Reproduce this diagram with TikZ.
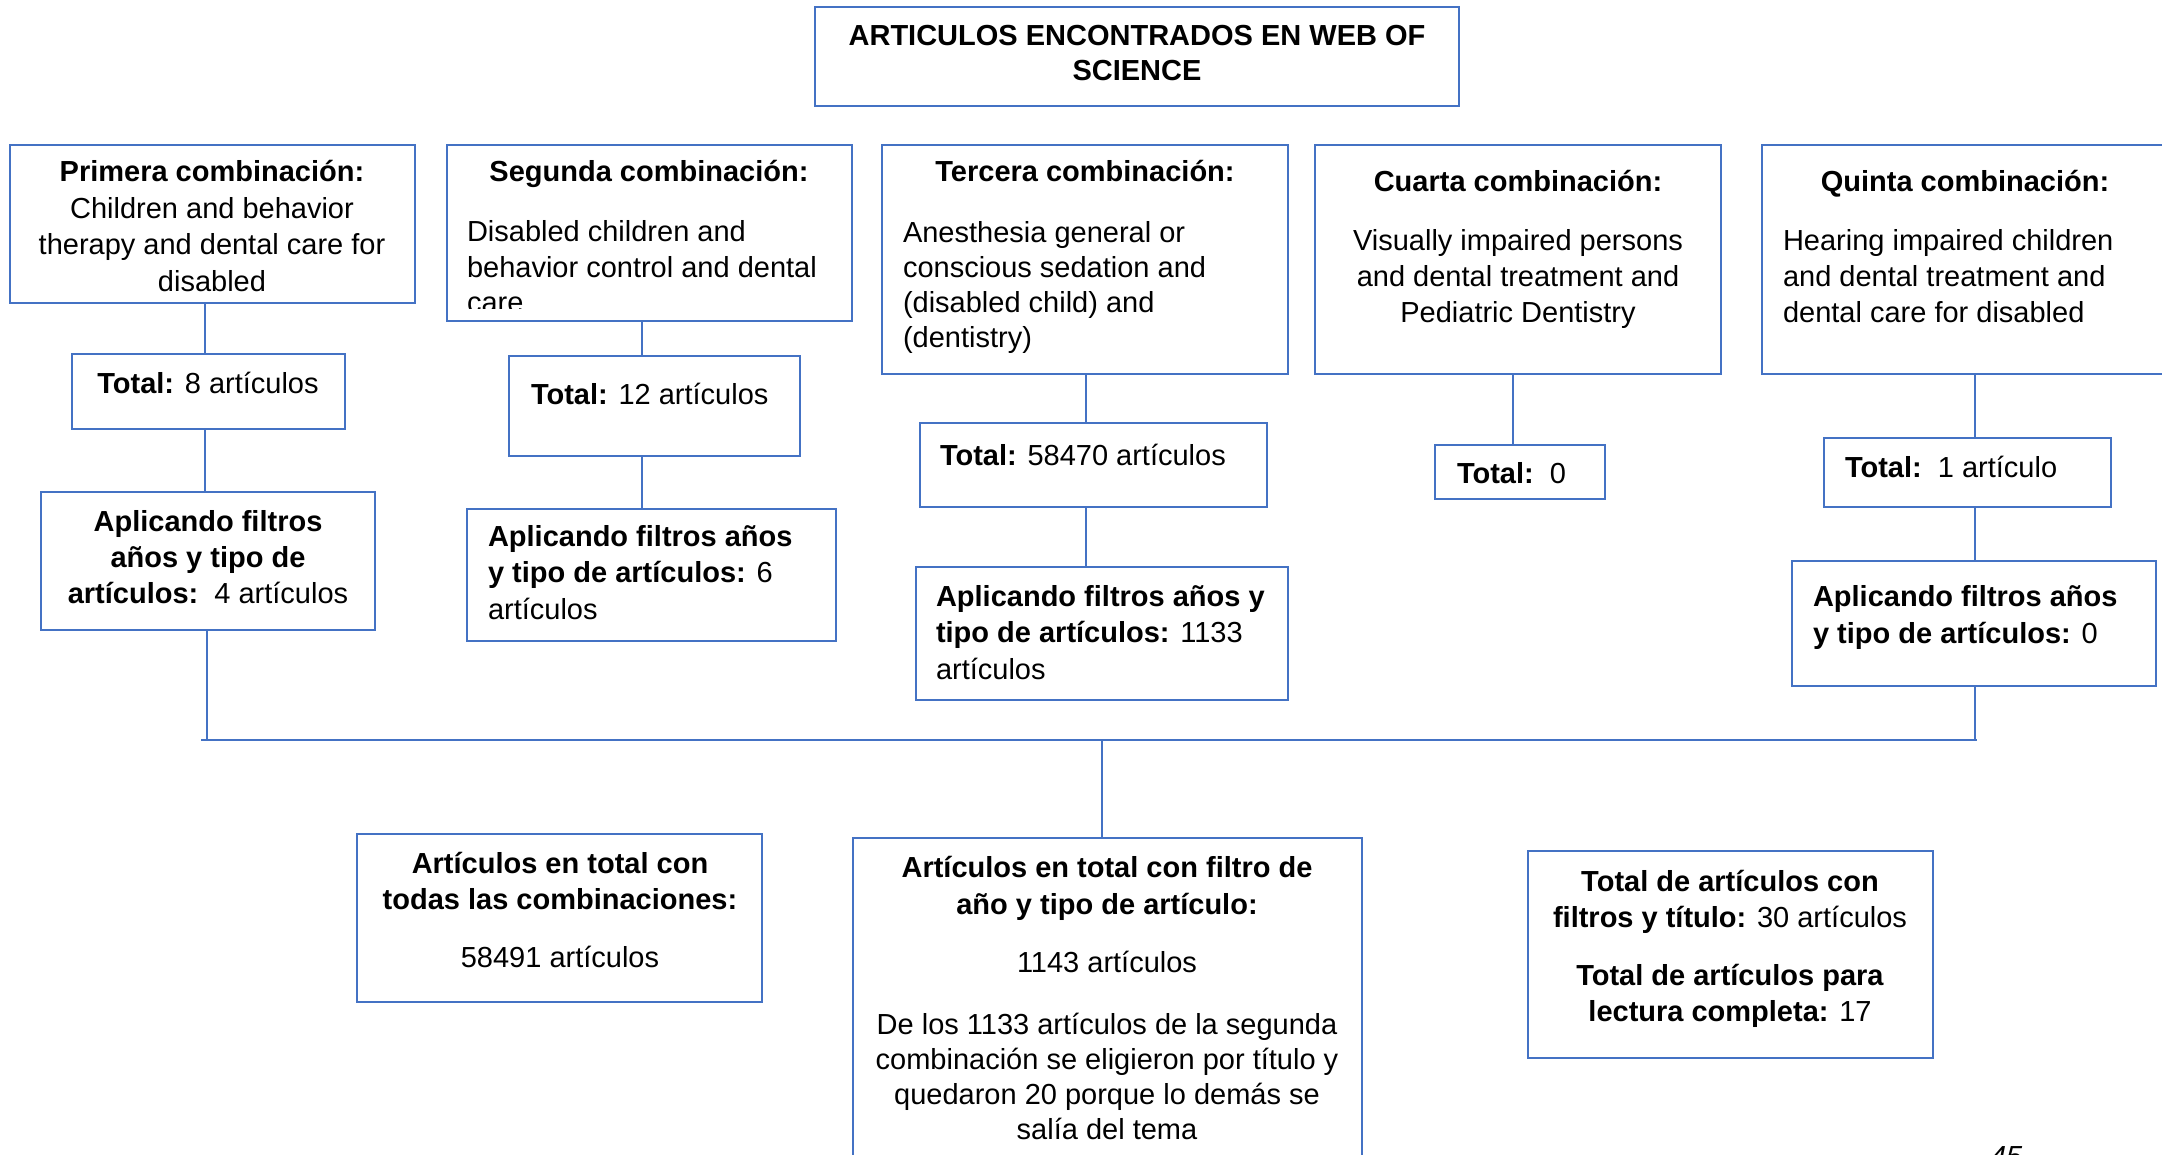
\documentclass[tikz,border=0pt]{standalone}
\usepackage{fontspec}
\setmainfont{Liberation Sans}
\definecolor{bl}{HTML}{4472C4}
\newcommand\fsz[1]{\fontsize{29}{#1}\selectfont}
\newcommand\st{\rule{0pt}{28pt}}
\begin{document}
\begin{tikzpicture}[x=1pt,y=-1pt,
  box/.style={draw=bl, line width=1.6pt, inner sep=0pt, outer sep=0pt},
  conn/.style={draw=bl, line width=1.6pt},
  tx/.style={inner sep=0pt, outer sep=0pt, font=\fsz{36}, align=left},
  txc/.style={tx, align=center, anchor=north},
  txl/.style={tx, align=left, anchor=north west}]
\useasboundingbox (0,0) rectangle (2162,1155);
\clip (0,0) rectangle (2162,1155);
\fill[white] (0,0) rectangle (2162,1155);

% boxes
\node[box, minimum width=644, minimum height=99] (title) at (1137,56.5) {};
\node[box, minimum width=405, minimum height=158] (P1) at (212.5,224) {};
\node[box, minimum width=405, minimum height=176] (P2) at (649.5,233) {};
\node[box, minimum width=406, minimum height=229] (P3) at (1085,259.5) {};
\node[box, minimum width=406, minimum height=229] (P4) at (1518,259.5) {};
\node[box, minimum width=438, minimum height=229] (P5) at (1981,259.5) {};
\node[box, minimum width=273, minimum height=75] (T1) at (208.5,391.5) {};
\node[box, minimum width=291, minimum height=100] (T2) at (654.5,406) {};
\node[box, minimum width=347, minimum height=84] (T3) at (1093.5,465) {};
\node[box, minimum width=170, minimum height=54] (T4) at (1520,472) {};
\node[box, minimum width=287, minimum height=69] (T5) at (1967.5,472.5) {};
\node[box, minimum width=334, minimum height=138] (A1) at (208,561) {};
\node[box, minimum width=369, minimum height=132] (A2) at (651.5,575) {};
\node[box, minimum width=372, minimum height=133] (A3) at (1102,633.5) {};
\node[box, minimum width=364, minimum height=125] (A5) at (1974,623.5) {};
\node[box, minimum width=405, minimum height=168] (B1) at (559.5,918) {};
\node[box, minimum width=509, minimum height=362] (M) at (1107.5,1019) {};
\node[box, minimum width=405, minimum height=207] (B3) at (1730.5,954.5) {};

% connector columns
\coordinate (c1) at (205,0);
\coordinate (c1b) at (207,0);
\coordinate (c2) at (642,0);
\coordinate (c3) at (1086,0);
\coordinate (c4) at (1513,0);
\coordinate (c5) at (1975,0);
\coordinate (cm) at (1102,0);
\coordinate (busL) at (201,740);
\coordinate (busR) at (1977,740);

\draw[conn] (P1.south -| c1) -- (T1.north -| c1);
\draw[conn] (T1.south -| c1) -- (A1.north -| c1);
\draw[conn] (P2.south -| c2) -- (T2.north -| c2);
\draw[conn] (T2.south -| c2) -- (A2.north -| c2);
\draw[conn] (P3.south -| c3) -- (T3.north -| c3);
\draw[conn] (T3.south -| c3) -- (A3.north -| c3);
\draw[conn] (P4.south -| c4) -- (T4.north -| c4);
\draw[conn] (P5.south -| c5) -- (T5.north -| c5);
\draw[conn] (T5.south -| c5) -- (A5.north -| c5);
\draw[conn] (A1.south -| c1b) -- (busL -| c1b);
\draw[conn] (A5.south -| c5) -- (busR -| c5);
\draw[conn] (busL) -- (busR);
\draw[conn] (busL -| cm) -- (M.north -| cm);

% texts
\node[txc, font=\fsz{34.5}\bfseries] (titlet) at (1137,18) {\st ARTICULOS ENCONTRADOS EN WEB OF\\SCIENCE};

\node[txc, font=\fsz{36.4}] (P1t) at (212,154) {\st\textbf{Primera combinación:}\\Children and behavior\\therapy and dental care for\\disabled};

\node[txc] (P2h) at (649,154) {\st\textbf{Segunda combinación:}};
\begin{scope}
\clip (447,146) rectangle (852,309);
\node[txl, font=\fsz{35.5}] (P2b) at (467,214) {\st Disabled children and\\behavior control and dental\\care};
\end{scope}

\node[txc] (P3h) at (1085,154) {\st\textbf{Tercera combinación:}};
\node[txl, font=\fsz{35.3}] (P3b) at (903,214) {\st Anesthesia general or\\conscious sedation and\\(disabled child) and\\(dentistry)};

\node[txc] (P4h) at (1518,164) {\st\textbf{Cuarta combinación:}};
\node[txc] (P4b) at (1518,223) {\st Visually impaired persons\\and dental treatment and\\Pediatric Dentistry};

\node[txc] (P5h) at (1965,164) {\st\textbf{Quinta combinación:}};
\node[txl] (P5b) at (1783,223) {\st Hearing impaired children\\and dental treatment and\\dental care for disabled};

\node[txc] (T1t) at (208,365) {\st\textbf{Total:} 8 artículos};
\node[txl] (T2t) at (531,376) {\st\textbf{Total:} 12 artículos};
\node[txl] (T3t) at (940,437) {\st\textbf{Total:} 58470 artículos};
\node[txl] (T4t) at (1457,455) {\st\textbf{Total:}\ \ 0};
\node[txl] (T5t) at (1845,449) {\st\textbf{Total:}\ \ 1 artículo};

\node[txc] (A1t) at (208,503) {\st\textbf{Aplicando filtros}\\\textbf{años y tipo de}\\\textbf{artículos:}\ \ 4 artículos};
\node[txl, font=\fsz{36.5}] (A2t) at (488,518) {\st\textbf{Aplicando filtros años}\\\textbf{y tipo de artículos:} 6\\artículos};
\node[txl, font=\fsz{36.5}] (A3t) at (936,578) {\st\textbf{Aplicando filtros años y}\\\textbf{tipo de artículos:} 1133\\artículos};
\node[txl, font=\fsz{37}] (A5t) at (1813,578) {\st\textbf{Aplicando filtros años}\\\textbf{y tipo de artículos:} 0};

\node[txc] (B1h) at (560,845) {\st\textbf{Artículos en total con}\\\textbf{todas las combinaciones:}};
\node[txc] (B1v) at (560,939) {\st 58491 artículos};

\node[txc, font=\fsz{37}] (Mh) at (1107,849) {\st\textbf{Artículos en total con filtro de}\\\textbf{año y tipo de artículo:}};
\node[txc] (Mv) at (1107,944) {\st 1143 artículos};
\node[txc, font=\fsz{35}] (Mp) at (1107,1006) {\st De los 1133 artículos de la segunda\\combinación se eligieron por título y\\quedaron 20 porque lo demás se\\salía del tema};

\node[txc] (B3a) at (1730,863) {\st\textbf{Total de artículos con}\\\textbf{filtros y título:} 30 artículos};
\node[txc] (B3b) at (1730,957) {\st\textbf{Total de artículos para}\\\textbf{lectura completa:} 17};

\node[tx, anchor=base west, font=\fsz{36}\itshape] (pg) at (1990,1166) {45};
\end{tikzpicture}
\end{document}
